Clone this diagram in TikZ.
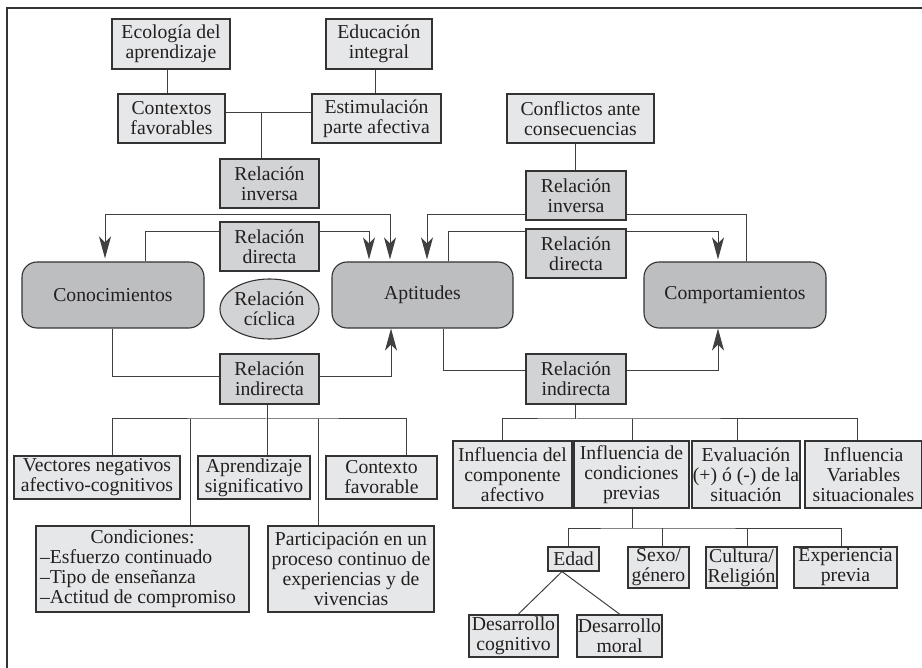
\documentclass[tikz,border=0pt]{standalone}
\usepackage{fontspec}
\setmainfont{Liberation Serif}
\usetikzlibrary{arrows.meta,shapes.geometric}
\definecolor{lightf}{HTML}{E6E7E8}
\definecolor{midf}{HTML}{D1D3D4}
\definecolor{darkf}{HTML}{BCBEC0}
\definecolor{edgec}{HTML}{333333}
\definecolor{linec}{HTML}{404040}
\definecolor{txt}{HTML}{231F20}
\tikzset{
  base/.style={draw=edgec, line width=1.1pt, text=txt, font=\fontsize{19.7}{20}\selectfont, align=center, inner sep=0pt, rectangle},
  sz/.style 2 args={minimum width=#1pt, minimum height=#2pt},
  lbox/.style={base, fill=lightf},
  mbox/.style={base, fill=midf},
  rbox/.style={base, fill=darkf, rounded corners=15pt},
  cbox/.style={base, ellipse, fill=midf},
  conn/.style={draw=linec, line width=1pt},
  >={Stealth[length=22pt,width=12pt,inset=6pt]},
  arr/.style={conn, ->, shorten >=2pt},
}
\begin{document}
\begin{tikzpicture}[x=1pt,y=-1pt]
\useasboundingbox (0,0) rectangle (922,668);
\draw[line width=2pt, draw=black!80] (7,668) -- (7,8) -- (922,8);

% top left
\node[lbox, sz={118}{50}] (eco) at (171,44) {Ecología del\\aprendizaje};
\node[lbox, sz={106}{50}] (edu) at (379,44) {Educación\\integral};
\node[lbox, sz={107}{49}] (ctx) at (171.5,118.5) {Contextos\\favorables};
\node[lbox, sz={129}{49}] (est) at (376.5,118.5) {Estimulación\\parte afectiva};
\node[mbox, sz={99}{49}] (ri1) at (269.5,183.5) {Relación\\inversa};
\node[lbox, sz={147}{49}] (conf) at (580.5,118.5) {Conflictos ante\\consecuencias};
\node[mbox, sz={100}{49}] (ri2) at (576,195.5) {Relación\\inversa};
\node[mbox, sz={99}{49}] (rd1) at (269.5,246.5) {Relación\\directa};
\node[mbox, sz={100}{49}] (rd2) at (576,253.5) {Relación\\directa};

% main
\node[rbox, sz={182}{66}] (con) at (113,295) {Conocimientos};
\node[rbox, sz={181}{66}] (apt) at (422.5,295) {Aptitudes};
\node[rbox, sz={182}{66}] (com) at (735,295) {Comportamientos};
\node[cbox, sz={99}{60}] (cic) at (269.5,309) {Relación\\cíclica};
\node[mbox, sz={99}{50}] (rid1) at (269.5,379) {Relación\\indirecta};
\node[mbox, sz={100}{50}] (rid2) at (576,379) {Relación\\indirecta};

% bottom left
\node[lbox, sz={166}{43}] (vec) at (97,477.5) {Vectores negativos\\afectivo-cognitivos};
\node[lbox, sz={112}{43}] (apr) at (254,477.5) {Aprendizaje\\significativo};
\node[lbox, sz={111}{43}] (ctf) at (381.5,477.5) {Contexto\\favorable};
\node[lbox, sz={213}{86}, align=left] (cnd) at (142.5,569) {\makebox[205pt]{Condiciones:}\\–Esfuerzo continuado\\–Tipo de enseñanza\\–Actitud de compromiso};
\node[lbox, sz={166}{86}] (par) at (351,569) {Participación en un\\proceso continuo de\\experiencias y de\\vivencias};

% bottom right
\node[lbox, sz={119}{67}] (ica) at (512.5,474.5) {Influencia del\\componente\\afectivo};
\node[lbox, sz={115}{67}] (icp) at (631.5,474.5) {Influencia de\\condiciones\\previas};
\node[lbox, sz={108}{67}] (eva) at (746,474.5) {Evaluación\\(+) ó (-) de la\\situación};
\node[lbox, sz={117}{67}] (ivs) at (863.5,474.5) {Influencia\\Variables\\situacionales};
\node[lbox, sz={51}{24}] (eda) at (573.5,559) {Edad};
\node[lbox, sz={61}{41}] (sex) at (658.5,567.5) {Sexo/\\género};
\node[lbox, sz={71}{41}] (cul) at (741.5,567.5) {Cultura/\\Religión};
\node[lbox, sz={103}{41}] (exp) at (845.5,567.5) {Experiencia\\previa};
\node[lbox, sz={89}{42}] (dco) at (513.5,636) {Desarrollo\\cognitivo};
\node[lbox, sz={85}{42}] (dmo) at (619.5,636) {Desarrollo\\moral};

% top-left tree
\draw[conn] ([xshift=-4pt]eco.south) -- ([xshift=-4pt]eco.south |- ctx.north);
\draw[conn] ([xshift=-4pt]edu.south) -- ([xshift=-4pt]edu.south |- est.north);
\draw[conn] ([yshift=5.5pt]ctx.east) -- ([yshift=5.5pt]ctx.east -| est.west);
\coordinate (j1) at (261,113);
\draw[conn] (j1) -- (j1 |- ri1.north);

% inversa left
\coordinate (li1) at (105,215);
\coordinate (li2) at (390,215);
\draw[conn,<->,shorten <=3pt,shorten >=2pt] (con.north -| li1) -- (li1) -- (li2) -- (apt.north -| li2);

% directa left
\draw[conn] ([yshift=14.5pt]rd1.west) -| ([xshift=32pt]con.north);
\draw[arr] ([yshift=14.5pt]rd1.east) -| ([xshift=-53.5pt]apt.north);

% inversa right
\draw[conn] ([xshift=-1pt]ri2.north) -- ([xshift=-1pt]ri2.north |- conf.south);
\draw[arr] ([yshift=-19.5pt]ri2.west) -| ([xshift=4.5pt]apt.north);
\draw[conn] ([yshift=-19.5pt]ri2.east) -| ([xshift=11pt]com.north);

% directa right
\draw[conn] ([yshift=21.5pt]rd2.west) -| ([xshift=25.5pt]apt.north);
\draw[arr] ([yshift=21.5pt]rd2.east) -| ([xshift=-17pt]com.north);

% indirecta left
\draw[conn] ([xshift=-1pt]con.south) |- ([yshift=2pt]rid1.west);
\draw[conn,->] ([yshift=2pt]rid1.east) -| ([xshift=-31.5pt]apt.south);

% indirecta right
\draw[conn] ([xshift=20.5pt]apt.south) |- ([yshift=8pt]rid2.west);
\draw[conn,->] ([yshift=8pt]rid2.east) -| ([xshift=-17pt]com.south);

% bottom left bus
\coordinate (b1) at (267,419);
\draw[conn] ([xshift=-2.5pt]rid1.south) -- (b1);
\draw[conn] ([xshift=15pt]vec.north) |- (b1) -| ([xshift=24.5pt]ctf.north);
\draw[conn] ([xshift=47.5pt]cnd.north) -- ([xshift=47.5pt]cnd.north |- b1);
\draw[conn] ([xshift=13pt]apr.north) -- ([xshift=13pt]apr.north |- b1);
\draw[conn] ([xshift=-33pt]par.north) -- ([xshift=-33pt]par.north |- b1);

% bottom right bus
\coordinate (b2) at (575,419);
\draw[conn] ([xshift=-1pt]rid2.south) -- (b2);
\draw[conn] ([xshift=-10.5pt]ica.north) |- (b2) -| ([xshift=-6.5pt]ivs.north);
\draw[conn] ([xshift=0.5pt]icp.north) -- ([xshift=0.5pt]icp.north |- b2);
\draw[conn] ([xshift=-9pt]eva.north) -- ([xshift=-9pt]eva.north |- b2);

\coordinate (b3) at (632,528);
\draw[conn] ([xshift=0.5pt]icp.south) -- (b3);
\draw[conn] ([xshift=-5.5pt]eda.north) |- (b3) -| ([xshift=-4.5pt]exp.north);
\draw[conn] ([xshift=3.5pt]sex.north) -- ([xshift=3.5pt]sex.north |- b3);
\draw[conn] ([xshift=5.5pt]cul.north) -- ([xshift=5.5pt]cul.north |- b3);

\draw[conn] ([xshift=-11.5pt]eda.south) -- ([xshift=4.5pt]dco.north);
\draw[conn] ([xshift=-11.5pt]eda.south) -- ([xshift=0.5pt]dmo.north);
\end{tikzpicture}
\end{document}
